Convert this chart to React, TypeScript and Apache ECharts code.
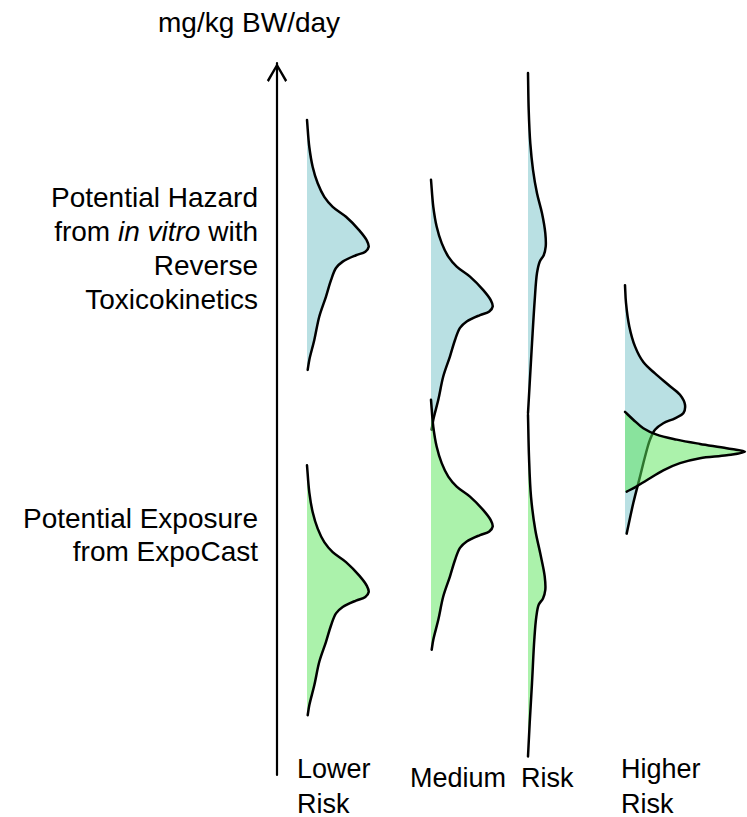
import React, { useEffect, useRef } from "react";
import * as echarts from "echarts";

// ---- Data (dose axis: arbitrary log-dose units, 0 = bottom, 100 = arrow tip) ----
// Column baselines on the horizontal (density) axis
const COLUMN_BASE = [30, 154, 251, 348]; // Lower, Medium (a), Medium (b), Higher

// Lower risk – hazard (blue)
const lowerHazardDose = [92.0, 88.2, 85.4, 83.1, 81.2, 79.8, 78.4, 76.5, 75.1, 74.2, 73.5, 73.0, 72.1, 71.2, 69.5, 67.2, 64.4, 61.1, 58.3, 56.9];
const lowerHazardDensity = [0, 2.3, 5.7, 10.7, 17.3, 25.7, 39, 52.3, 59.7, 61.7, 58.3, 49, 35.7, 29, 24, 19, 12.3, 7.3, 2.3, 0.7];
// Lower risk – exposure (green)
const lowerExposureDose = [43.5, 39.7, 36.9, 34.6, 32.7, 31.3, 29.9, 28.0, 26.6, 25.7, 25.0, 24.5, 23.6, 22.7, 21.0, 18.7, 15.9, 12.6, 9.8, 8.4];
const lowerExposureDensity = [0, 2.3, 5.7, 10.7, 17.3, 25.7, 39, 52.3, 59.7, 61.7, 58.3, 49, 35.7, 29, 24, 19, 12.3, 7.3, 2.3, 0.7];

// Medium risk (a) – hazard / exposure
const medAHazardDose = [83.6, 79.8, 77.0, 74.7, 72.8, 71.4, 70.0, 68.1, 66.7, 65.8, 65.1, 64.6, 63.7, 62.8, 61.1, 58.8, 56.0, 52.7, 49.9, 48.5];
const medAHazardDensity = [0, 2.3, 5.7, 10.7, 17.3, 25.7, 39, 52.3, 59.7, 61.7, 58.3, 49, 35.7, 29, 24, 19, 12.3, 7.3, 2.3, 0.7];
const medAExposureDose = [52.7, 48.9, 46.1, 43.8, 41.9, 40.5, 39.1, 37.2, 35.8, 34.9, 34.2, 33.7, 32.8, 31.9, 30.2, 27.9, 25.1, 21.8, 19.0, 17.6];
const medAExposureDensity = [0, 2.3, 5.7, 10.7, 17.3, 25.7, 39, 52.3, 59.7, 61.7, 58.3, 49, 35.7, 29, 24, 19, 12.3, 7.3, 2.3, 0.7];

// Medium risk (b) – hazard / exposure (broad, flat)
const medBHazardDose = [98.6, 93.4, 88.7, 85.0, 81.7, 78.9, 76.1, 74.2, 73.0, 72.1, 70.5, 66.7, 60.6, 55.0, 50.8];
const medBHazardDensity = [0, 0.7, 2.3, 5, 9, 14, 17.3, 17.7, 15.7, 11.7, 9, 6.7, 4, 1.7, 0];
const medBExposureDose = [50.6, 44.7, 39.1, 34.4, 31.1, 27.9, 26.0, 24.8, 23.9, 22.2, 19.0, 12.9, 7.3, 2.6];
const medBExposureDensity = [0, 1, 3, 7.3, 12.3, 16.7, 17.3, 15, 10.7, 8.3, 6.3, 4, 1.7, 0];

// Higher risk – hazard / exposure (overlapping)
const highHazardDose = [68.8, 66.3, 63.0, 60.2, 58.0, 56.4, 54.8, 53.4, 52.0, 50.8, 50.1, 49.4, 48.5, 47.1, 44.7, 41.9, 38.2, 33.9];
const highHazardDensity = [0, 1, 4.3, 10, 18.3, 30, 43.3, 55, 60, 58.3, 50, 38.3, 30, 25, 20, 15, 8.3, 1.7];
const highExposureDose = [51.0, 49.9, 48.7, 47.8, 47.1, 46.5, 45.9, 45.4, 44.9, 44.5, 43.8, 42.8, 41.4, 40.4, 39.8];
const highExposureDensity = [0, 8.3, 18.3, 31.7, 51.7, 75, 101.7, 120, 101.7, 75, 55, 38.3, 21.7, 10, 1.7];

const AXIS_TITLE = "mg/kg BW/day";
const HAZARD_LABEL = "Potential Hazard\nfrom {i|in vitro} with\nReverse\nToxicokinetics";
const EXPOSURE_LABEL = "Potential Exposure\nfrom ExpoCast";
const RISK_LABELS = ["Lower\nRisk", "Medium  Risk", "Higher\nRisk"];

type Dist = { col: number; dose: number[]; density: number[]; kind: "hazard" | "exposure" };
const DISTS: Dist[] = [
  { col: 0, dose: lowerHazardDose, density: lowerHazardDensity, kind: "hazard" },
  { col: 0, dose: lowerExposureDose, density: lowerExposureDensity, kind: "exposure" },
  { col: 1, dose: medAHazardDose, density: medAHazardDensity, kind: "hazard" },
  { col: 1, dose: medAExposureDose, density: medAExposureDensity, kind: "exposure" },
  { col: 2, dose: medBHazardDose, density: medBHazardDensity, kind: "hazard" },
  { col: 2, dose: medBExposureDose, density: medBExposureDensity, kind: "exposure" },
  { col: 3, dose: highHazardDose, density: highHazardDensity, kind: "hazard" },
  { col: 3, dose: highExposureDose, density: highExposureDensity, kind: "exposure" },
];

const FONT = '"Liberation Sans", Arial, sans-serif';
const HAZARD_FILL = "#b9e0e3";
const EXPOSURE_FILL = "rgba(90,230,90,0.51)";

// Smooth half-violin shape (centripetal Catmull-Rom through the given points,
// optionally closed along the vertical baseline)
const HalfViolin = (echarts.graphic as any).extendShape({
  shape: { points: [] as number[][], closed: false, baseX: 0 },
  buildPath(ctx: any, shape: any) {
    const p = shape.points as number[][];
    if (!p || p.length < 2) return;
    const dist = (a: number[], b: number[]) => Math.hypot(a[0] - b[0], a[1] - b[1]);
    ctx.moveTo(p[0][0], p[0][1]);
    for (let i = 0; i < p.length - 1; i++) {
      const p1 = p[i];
      const p2 = p[i + 1];
      const p0 = i > 0 ? p[i - 1] : null;
      const p3 = i + 2 < p.length ? p[i + 2] : null;
      const d2s = dist(p1, p2); // |d2|^(2a), a = 0.5
      const d2 = Math.sqrt(d2s);
      let c1 = p1;
      let c2 = p2;
      if (p0) {
        const d1s = dist(p0, p1);
        const d1 = Math.sqrt(d1s);
        if (d1 > 1e-6) {
          const k = 3 * d1 * (d1 + d2);
          c1 = [0, 1].map(
            (j) => (d1s * p2[j] - d2s * p0[j] + (2 * d1s + 3 * d1 * d2 + d2s) * p1[j]) / k
          );
        }
      } else {
        c1 = [p1[0] + (p2[0] - p1[0]) / 3, p1[1] + (p2[1] - p1[1]) / 3];
      }
      if (p3) {
        const d3s = dist(p2, p3);
        const d3 = Math.sqrt(d3s);
        if (d3 > 1e-6) {
          const k = 3 * d3 * (d3 + d2);
          c2 = [0, 1].map(
            (j) => (d3s * p1[j] - d2s * p3[j] + (2 * d3s + 3 * d3 * d2 + d2s) * p2[j]) / k
          );
        }
      } else {
        c2 = [p2[0] - (p2[0] - p1[0]) / 3, p2[1] - (p2[1] - p1[1]) / 3];
      }
      ctx.bezierCurveTo(c1[0], c1[1], c2[0], c2[1], p2[0], p2[1]);
    }
    if (shape.closed) {
      ctx.lineTo(shape.baseX, p[p.length - 1][1]);
      ctx.lineTo(shape.baseX, p[0][1]);
      ctx.closePath();
    }
  },
});
(echarts.graphic as any).registerShape("halfViolin", HalfViolin);

export default function App() {
  const ref = useRef<HTMLDivElement>(null);
  useEffect(() => {
    if (!ref.current) return;
    const chart = echarts.init(ref.current, undefined, { renderer: "svg" });
    const option: any = {
      animation: false,
      grid: { left: 277, top: 63, width: 470, height: 712, containLabel: false },
      xAxis: { type: "value", min: 0, max: 470, show: false },
      yAxis: {
        type: "value",
        min: 0,
        max: 100,
        axisLine: {
          show: true,
          lineStyle: { color: "#000", width: 2.2 },
          symbol: ["none", "path://M10,0 L20,17 L18.1,18.7 L10,4.4 L1.9,18.7 L0,17 Z"],
          symbolSize: [21, 19],
          symbolOffset: [0, -9.5],
        },
        axisTick: { show: false },
        axisLabel: { show: false },
        splitLine: { show: false },
      },
      series: [
        {
          type: "custom",
          coordinateSystem: "cartesian2d",
          data: DISTS.map((d, i) => [COLUMN_BASE[d.col], d.dose[0], i]),
          renderItem: (params: any, api: any) => {
            const d = DISTS[params.dataIndex];
            const base = COLUMN_BASE[d.col];
            const pts = d.dose.map((v, k) => api.coord([base + d.density[k], v]));
            const baseX = api.coord([base, d.dose[0]])[0];
            const fill = d.kind === "hazard" ? HAZARD_FILL : EXPOSURE_FILL;
            return {
              type: "group",
              children: [
                {
                  type: "halfViolin",
                  shape: { points: pts, closed: true, baseX },
                  style: { fill, stroke: null },
                },
                {
                  type: "halfViolin",
                  shape: { points: pts, closed: false, baseX },
                  style: { fill: null, stroke: "#000", lineWidth: 2.5, lineCap: "round", lineJoin: "round" },
                },
              ],
            };
          },
        },
      ],
      graphic: [
        {
          type: "text",
          x: 158,
          y: 8,
          style: { text: AXIS_TITLE, font: `28px ${FONT}`, fill: "#000", verticalAlign: "top" },
        },
        {
          type: "text",
          x: 258,
          y: 180,
          style: {
            text: HAZARD_LABEL,
            font: `28px ${FONT}`,
            fill: "#000",
            align: "right",
            verticalAlign: "top",
            lineHeight: 34,
            rich: { i: { fontStyle: "italic", fontSize: 28, fontFamily: FONT, lineHeight: 34 } },
          },
        },
        {
          type: "text",
          x: 258,
          y: 502,
          style: {
            text: EXPOSURE_LABEL,
            font: `28px ${FONT}`,
            fill: "#000",
            align: "right",
            verticalAlign: "top",
            lineHeight: 33,
          },
        },
        {
          type: "text",
          x: 297,
          y: 751,
          style: { text: RISK_LABELS[0], font: `27px ${FONT}`, fill: "#000", verticalAlign: "top", lineHeight: 35 },
        },
        {
          type: "text",
          x: 410,
          y: 762,
          style: { text: RISK_LABELS[1], font: `27px ${FONT}`, fill: "#000", verticalAlign: "top", lineHeight: 32 },
        },
        {
          type: "text",
          x: 621,
          y: 751,
          style: { text: RISK_LABELS[2], font: `27px ${FONT}`, fill: "#000", verticalAlign: "top", lineHeight: 35 },
        },
      ],
    };
    chart.setOption(option);
    return () => chart.dispose();
  }, []);
  return (
    <div
      ref={ref}
      style={{ position: "absolute", left: 0, top: 0, width: 747, height: 817, background: "#fff" }}
    />
  );
}
